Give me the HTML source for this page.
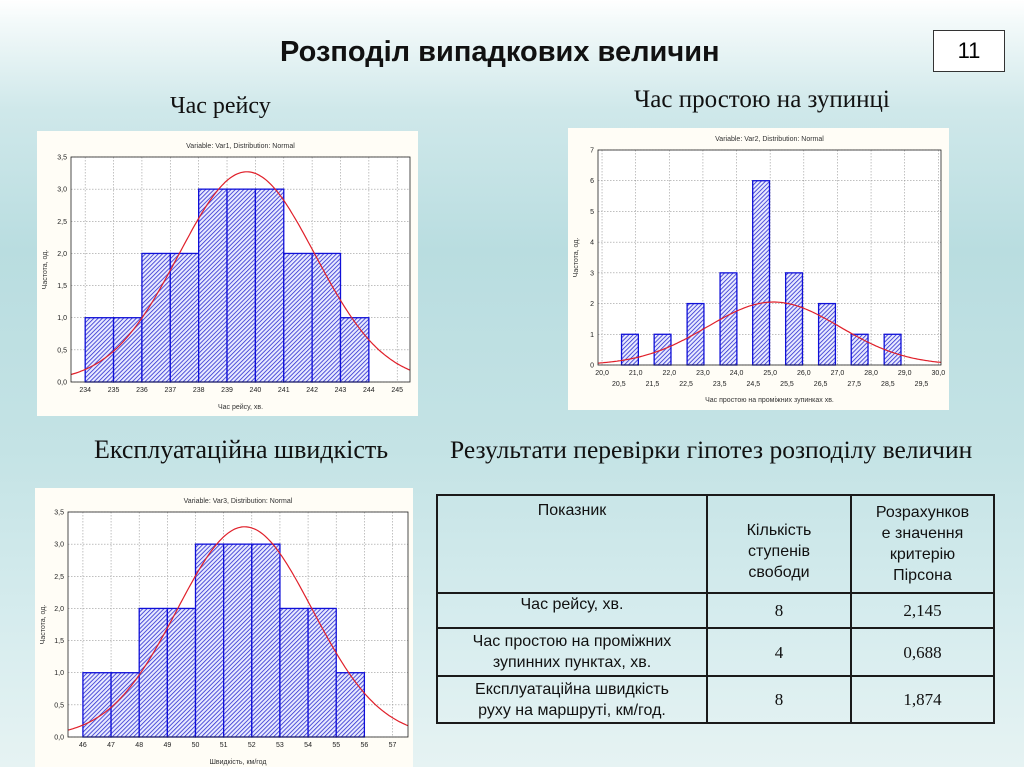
<!DOCTYPE html>
<html><head><meta charset="utf-8">
<style>
body{margin:0;}
#slide{position:relative;width:1024px;height:767px;overflow:hidden;
background:linear-gradient(180deg,#ffffff 0px,#f4fafa 20px,#cfe8ea 110px,#b9dde0 250px,#c4e3e5 450px,#d6ecee 620px,#e6f3f3 767px);
font-family:"Liberation Sans",sans-serif;}
.t{position:absolute;white-space:nowrap;}
.serif{font-family:"Liberation Serif",serif;font-size:25px;color:#111;}
#tbl{position:absolute;left:436px;top:494px;width:557px;table-layout:fixed;border-collapse:collapse;font-family:"Liberation Sans",sans-serif;font-size:16px;color:#111;}
#tbl td{border:2px solid #1a1a1a;text-align:center;padding:0;line-height:21px;}
.num{font-family:"Liberation Serif",serif;font-size:17px;}
</style></head><body>
<div id="slide">
<div class="t" style="left:280px;top:36px;font-size:29px;font-weight:bold;color:#111;">Розподіл випадкових величин</div>
<div class="t" style="left:933px;top:30px;width:70px;height:40px;border:1.5px solid #333;background:#fff;font-size:22px;text-align:center;line-height:40px;">11</div>
<div class="t serif" style="left:170px;top:93px;font-size:24px;">Час рейсу</div>
<div class="t serif" style="left:634px;top:86px;font-size:25px;">Час простою на зупинці</div>
<div class="t serif" style="left:94px;top:435px;font-size:26px;">Експлуатаційна швидкість</div>
<div class="t serif" style="left:450px;top:435px;font-size:25.5px;">Результати перевірки гіпотез розподілу величин</div>

<table id="tbl">
<colgroup><col style="width:270px"><col style="width:144px"><col style="width:143px"></colgroup>
<tr style="height:98px"><td style="vertical-align:top;padding-top:4px">Показник</td><td style="padding-top:14px">Кількість<br>ступенів<br>свободи</td><td>Розрахунков<br>е значення<br>критерію<br>Пірсона</td></tr>
<tr style="height:35px"><td style="vertical-align:top">Час рейсу, хв.</td><td class="num">8</td><td class="num">2,145</td></tr>
<tr style="height:48px"><td>Час простою на проміжних<br>зупинних пунктах, хв.</td><td class="num">4</td><td class="num">0,688</td></tr>
<tr style="height:47px"><td>Експлуатаційна швидкість<br>руху на маршруті, км/год.</td><td class="num">8</td><td class="num">1,874</td></tr>
</table>

<svg id="charts" width="1024" height="767" style="position:absolute;left:0;top:0" xmlns="http://www.w3.org/2000/svg">
<defs><pattern id="hatch" width="3" height="3" patternUnits="userSpaceOnUse" patternTransform="rotate(45)">
<rect width="3" height="3" fill="#e8eaff"/><line x1="0" y1="0" x2="0" y2="3" stroke="#2b2bd0" stroke-width="1.6"/></pattern></defs>
</svg>
</div>
<script>
// Chart 1: trip time
const c1Edges=[234,235,236,237,238,239,240,241,242,243,244];
const c1Counts=[1,1,2,2,3,3,3,2,2,1];
const c1XTicks=[234,235,236,237,238,239,240,241,242,243,244,245];
const c1YTicks=[0,0.5,1,1.5,2,2.5,3,3.5];
const c1Fit=[239.7,2.4,3.27]; // mean, sd, peak
// Chart 2: stop time
const c2Centers=[20.83,21.8,22.78,23.76,24.73,25.71,26.69,27.66,28.64];
const c2Counts=[1,1,2,3,6,3,2,1,1];
const c2XTicksTop=[20,21,22,23,24,25,26,27,28,29,30];
const c2XTicksBottom=[20.5,21.5,22.5,23.5,24.5,25.5,26.5,27.5,28.5,29.5];
const c2YTicks=[0,1,2,3,4,5,6,7];
const c2Fit=[25.1,1.97,2.05];
// Chart 3: speed
const c3Edges=[46,47,48,49,50,51,52,53,54,55,56];
const c3Counts=[1,1,2,2,3,3,3,2,2,1];
const c3XTicks=[46,47,48,49,50,51,52,53,54,55,56,57];
const c3YTicks=[0,0.5,1,1.5,2,2.5,3,3.5];
const c3Fit=[51.75,2.4,3.27];

const svg=document.getElementById('charts');
const NS='http://www.w3.org/2000/svg';
function mk(tag,attrs,parent){const e=document.createElementNS(NS,tag);for(const k in attrs)e.setAttribute(k,attrs[k]);(parent||svg).appendChild(e);return e;}
function fmt(v,d){return v.toFixed(d).replace('.',',');}

function chart(o){
  const g=mk('g',{});
  
  
  const bg=mk('rect',{x:o.px,y:o.py,width:o.pw,height:o.ph,fill:'#fffdf6'},g);
  
  
  const sx=v=>o.l+(v-o.x0)/(o.x1-o.x0)*(o.r-o.l);
  const sy=v=>o.b-(v-o.y0)/(o.y1-o.y0)*(o.b-o.t);
  mk('rect',{x:o.l,y:o.t,width:o.r-o.l,height:o.b-o.t,fill:'#fff'},g);
  o.yt.forEach(v=>{const y=sy(v);
    mk('line',{x1:o.l,x2:o.r,y1:y,y2:y,stroke:'#999','stroke-width':0.6,'stroke-dasharray':'1.5,1.5'},g);
    const tx=mk('text',{x:o.l-4,y:y+2.5,'font-size':7,'text-anchor':'end',fill:'#222'},g);tx.textContent=fmt(v,o.yd);
    
    });
  o.xt.forEach(v=>{const x=sx(v);
    mk('line',{x1:x,x2:x,y1:o.t,y2:o.b,stroke:'#999','stroke-width':0.6,'stroke-dasharray':'1.5,1.5'},g);
    const tx=mk('text',{x:x,y:o.b+10,'font-size':7,'text-anchor':'middle',fill:'#222'},g);tx.textContent=fmt(v,o.xd);
    
    });
  if(o.xt2)o.xt2.forEach(v=>{const x=sx(v);
    const tx=mk('text',{x:x,y:o.b+21,'font-size':7,'text-anchor':'middle',fill:'#222'},g);tx.textContent=fmt(v,1);
    
    });
  o.counts.forEach((c,i)=>{let a,bb;
    if(o.edges){a=o.edges[i];bb=o.edges[i+1];}else{a=o.centers[i]-o.bw/2;bb=o.centers[i]+o.bw/2;}
    const r=mk('rect',{x:sx(a),y:sy(c),width:sx(bb)-sx(a),height:sy(0)-sy(c),fill:'url(#hatch)',stroke:'#1010d8','stroke-width':1.3},g);
    
    });
  let d='';const [m,s,pk]=o.fit;
  for(let i=0;i<=200;i++){const v=o.x0+(o.x1-o.x0)*i/200;const y=pk*Math.exp(-((v-m)*(v-m))/(2*s*s));d+=(i?'L':'M')+sx(v).toFixed(1)+','+sy(y).toFixed(1);}
  const p=mk('path',{d:d,fill:'none',stroke:'#e0202a','stroke-width':1.2},g);
  
  
  mk('rect',{x:o.l,y:o.t,width:o.r-o.l,height:o.b-o.t,fill:'none',stroke:'#222','stroke-width':0.8},g);
  const tt=mk('text',{x:(o.l+o.r)/2,y:o.t-9,'font-size':7,'text-anchor':'middle',fill:'#333'},g);tt.textContent=o.title;
  
  
  const xt=mk('text',{x:(o.l+o.r)/2,y:o.xty,'font-size':7,'text-anchor':'middle',fill:'#333'},g);xt.textContent=o.xlabel;
  
  
  const cy=(o.t+o.b)/2,cx=o.px+10;
  const yt=mk('text',{x:cx,y:cy,'font-size':7,'text-anchor':'middle',fill:'#333',transform:`rotate(-90 ${cx} ${cy})`},g);yt.textContent='Частота, од.';
  
  
}
chart({name:'trip-time-histogram',px:37,py:131,pw:381,ph:285,l:71,r:410,t:157,b:382,x0:233.5,x1:245.45,y0:0,y1:3.5,
  edges:c1Edges,counts:c1Counts,xt:c1XTicks,yt:c1YTicks,xd:0,yd:1,fit:c1Fit,title:'Variable: Var1, Distribution: Normal',xlabel:'Час рейсу, хв.',xty:409});
chart({name:'stop-time-histogram',px:568,py:128,pw:381,ph:282,l:598,r:941,t:150,b:365,x0:19.88,x1:30.08,y0:0,y1:7,
  centers:c2Centers,bw:0.5,counts:c2Counts,xt:c2XTicksTop,xt2:c2XTicksBottom,yt:c2YTicks,xd:1,yd:0,fit:c2Fit,title:'Variable: Var2, Distribution: Normal',xlabel:'Час простою на проміжних зупинках хв.',xty:402});
chart({name:'speed-histogram',px:35,py:488,pw:378,ph:279,l:68,r:408,t:512,b:737,x0:45.47,x1:57.55,y0:0,y1:3.5,
  edges:c3Edges,counts:c3Counts,xt:c3XTicks,yt:c3YTicks,xd:0,yd:1,fit:c3Fit,title:'Variable: Var3, Distribution: Normal',xlabel:'Швидкість, км/год',xty:764});
</script>
</body></html>
